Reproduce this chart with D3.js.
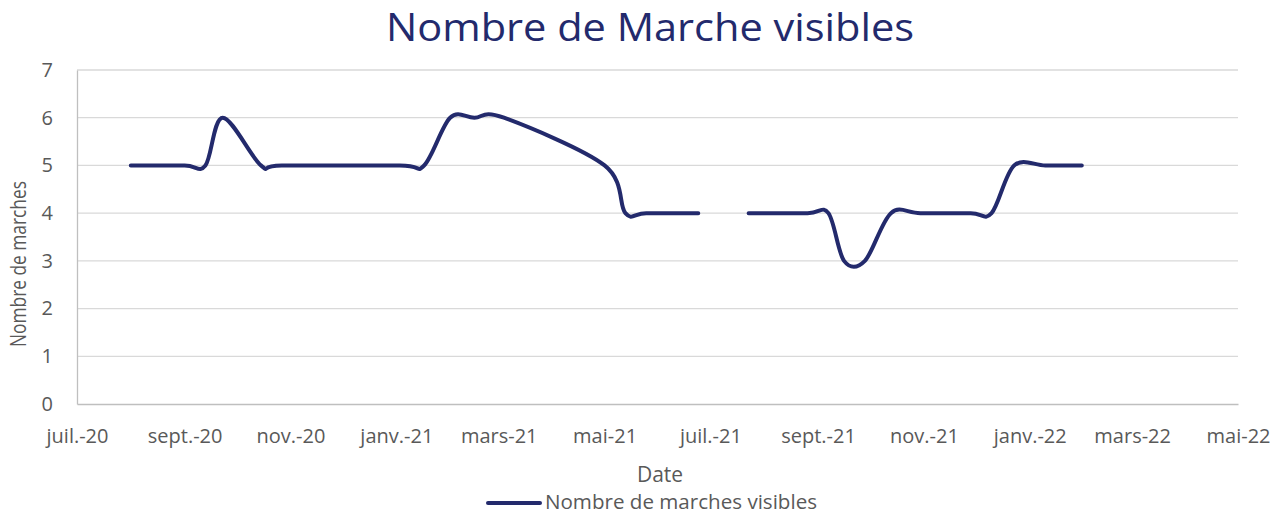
<!doctype html>
<html lang="fr">
<head>
<meta charset="UTF-8">
<title>Nombre de Marche visibles</title>
<style>
  body { margin: 0; background: #fff; }
  svg text { font-family: "Open Sans", "Noto Sans", sans-serif; }
</style>
</head>
<body>
<script src="https://cdn.jsdelivr.net/npm/d3@7/dist/d3.min.js"></script>
<script>
// relevés (null = pas de relevé, coupure de la courbe)
const dates = [
  "2020-08-01", "2020-09-01", "2020-09-13", "2020-09-23", "2020-10-15", "2020-10-27",
  "2021-01-03", "2021-01-17", "2021-02-01", "2021-02-15", "2021-03-04", "2021-05-01",
  "2021-05-13", "2021-05-25", "2021-06-24", "2021-07-08",
  "2021-07-23", "2021-08-26", "2021-09-07", "2021-09-16", "2021-09-28", "2021-10-13",
  "2021-10-30", "2021-11-28", "2021-12-10", "2021-12-23", "2022-01-10", "2022-01-31"
];
const values = [
  5, 5, 5, 6, 5, 5,
  5, 5, 6, 6, 6, 5,
  4, 4, 4, null,
  4, 4, 4, 3, 3, 4,
  4, 4, 4, 5, 5, 5
];
const xTickDates = ["2020-07-01", "2020-09-01", "2020-11-01", "2021-01-01", "2021-03-01", "2021-05-01",
  "2021-07-01", "2021-09-01", "2021-11-01", "2022-01-01", "2022-03-01", "2022-05-01"];
const xTickLabels = ["juil.-20", "sept.-20", "nov.-20", "janv.-21", "mars-21", "mai-21",
  "juil.-21", "sept.-21", "nov.-21", "janv.-22", "mars-22", "mai-22"];
const yTicks = [0, 1, 2, 3, 4, 5, 6, 7];

const W = 1281, H = 515;
const navy = "#232a6c", grey = "#595959";
const parse = d3.utcParse("%Y-%m-%d");
const data = dates.map((d, i) => ({date: parse(d), value: values[i]}));

const svg = d3.select("body").append("svg").attr("width", W).attr("height", H);

const x = d3.scaleUtc().domain([parse(xTickDates[0]), parse(xTickDates[xTickDates.length - 1])]).range([77, 1238]);
const y = d3.scaleLinear().domain([0, 7]).range([404, 70]);

// set a text's font size so it spans the given width
function fit(sel, width) {
  const w = sel.node().getComputedTextLength();
  const s = parseFloat(sel.attr("font-size"));
  sel.attr("font-size", (s * width / w).toFixed(2));
  return sel;
}

// grille
svg.append("g").selectAll("line")
  .data(yTicks.filter(d => d > 0))
  .join("line")
  .attr("x1", x.range()[0]).attr("x2", x.range()[1])
  .attr("y1", d => y(d)).attr("y2", d => y(d))
  .attr("stroke", "#d9d9d9").attr("stroke-width", 1.3);

// axes
const yAxis = svg.append("g")
  .attr("transform", `translate(${x.range()[0]},0)`)
  .call(d3.axisLeft(y).tickValues(yTicks).tickFormat(d3.format("d")).tickSize(0).tickPadding(24));
yAxis.select(".domain").attr("stroke", "#bfbfbf").attr("stroke-width", 1.3);
yAxis.selectAll("text").attr("font-size", 20).attr("fill", grey)
  .style("font-family", '"Open Sans", sans-serif');

const xAxis = svg.append("g")
  .attr("transform", `translate(0,${y(0)})`)
  .call(d3.axisBottom(x).tickValues(xTickDates.map(parse))
    .tickFormat((d, i) => xTickLabels[i]).tickSize(0).tickPadding(25));
xAxis.select(".domain").attr("stroke", "#bfbfbf").attr("stroke-width", 1.3);
xAxis.selectAll("text").attr("font-size", 20).attr("fill", grey)
  .style("font-family", '"Open Sans", sans-serif');

// courbe lissée
const line = d3.line()
  .defined(d => d.value != null)
  .x(d => x(d.date))
  .y(d => y(d.value))
  .curve(d3.curveCardinal.tension(0));

svg.append("path")
  .datum(data)
  .attr("fill", "none")
  .attr("stroke", navy)
  .attr("stroke-width", 4)
  .attr("stroke-linecap", "round")
  .attr("stroke-linejoin", "round")
  .attr("d", line);

// titres
svg.append("text")
  .attr("x", 650).attr("y", 41)
  .attr("text-anchor", "middle")
  .attr("font-size", 38)
  .attr("textLength", 528)
  .attr("lengthAdjust", "spacingAndGlyphs")
  .attr("fill", navy)
  .text("Nombre de Marche visibles");

svg.append("text")
  .attr("x", 660).attr("y", 482)
  .attr("text-anchor", "middle")
  .attr("font-size", 21)
  .attr("fill", grey)
  .text("Date");

svg.append("text")
  .attr("transform", "translate(26,264) rotate(-90)")
  .attr("text-anchor", "middle")
  .attr("font-size", 21)
  .attr("textLength", 166)
  .attr("lengthAdjust", "spacingAndGlyphs")
  .attr("fill", grey)
  .text("Nombre de marches");

// légende
const legend = svg.append("g");
legend.append("line")
  .attr("x1", 488).attr("x2", 540)
  .attr("y1", 503).attr("y2", 503)
  .attr("stroke", navy).attr("stroke-width", 4).attr("stroke-linecap", "round");
const legendText = legend.append("text")
  .attr("x", 545).attr("y", 509)
  .attr("font-size", 18)
  .attr("fill", grey)
  .text("Nombre de marches visibles");
fit(legendText, 272);
</script>
</body>
</html>
